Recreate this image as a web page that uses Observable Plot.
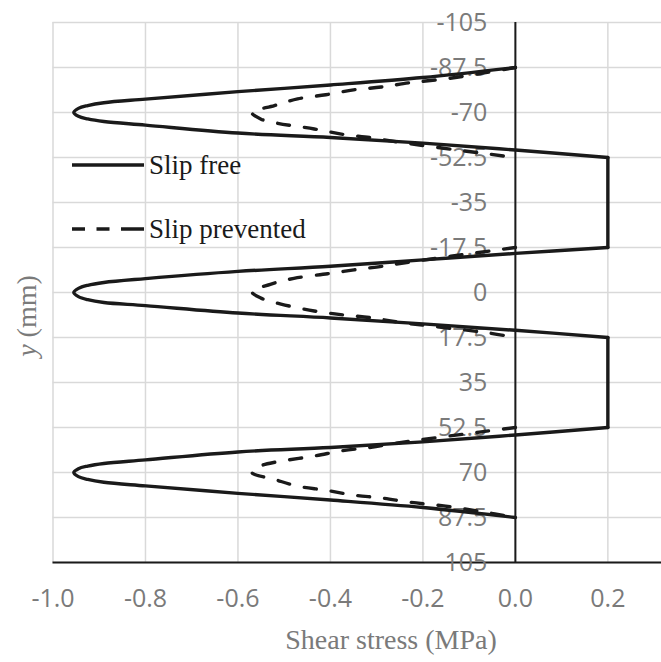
<!DOCTYPE html>
<html>
<head>
<meta charset="utf-8">
<script src="https://cdn.jsdelivr.net/npm/d3@7"></script>
<script src="https://cdn.jsdelivr.net/npm/@observablehq/plot@0.6"></script>
<style>
  body { margin: 0; background: #fff; }
  #chart { position: relative; width: 661px; height: 662px; }
</style>
</head>
<body>
<div id="chart"></div>
<script>
// ---- tick values ----
const xTicks = [-1.0, -0.8, -0.6, -0.4, -0.2, 0.0, 0.2];
const yTicks = [-105, -87.5, -70, -52.5, -35, -17.5, 0, 17.5, 35, 52.5, 70, 87.5, 105];

// ---- series names / labels ----
const seriesNames = ["Slip free", "Slip prevented"];
const xLabel = "Shear stress (MPa)";

// ---- Slip free (solid): y (mm) and shear stress (MPa) per lobe ----
const freeTopY = [-87.5, -83.6, -80.7, -78.1, -75.2, -73.8, -72.7, -71.6, -70.0, -68.5, -67.5, -66.5, -65.1, -62.0, -60.3, -58.1, -55.4, -52.5];
const freeTopX = [0, -0.2, -0.4, -0.6, -0.8, -0.89, -0.925, -0.945, -0.955, -0.945, -0.925, -0.89, -0.8, -0.6, -0.4, -0.2, 0, 0.2];
const freeMidY = [-17.5, -15.2, -12.7, -10.2, -8.2, -5.4, -3.9, -2.8, -1.6, 0, 1.6, 2.8, 3.9, 5.1, 8.0, 9.9, 12.2, 14.7, 17.5];
const freeMidX = [0.2, 0, -0.2, -0.4, -0.6, -0.8, -0.89, -0.925, -0.945, -0.955, -0.945, -0.925, -0.89, -0.8, -0.6, -0.4, -0.2, 0, 0.2];
const freeBotY = [52.5, 55.4, 58.1, 60.3, 62.0, 65.1, 66.5, 67.5, 68.5, 70.0, 71.6, 72.7, 73.8, 75.2, 78.1, 80.7, 83.6, 87.5];
const freeBotX = [0.2, 0, -0.2, -0.4, -0.6, -0.8, -0.89, -0.925, -0.945, -0.955, -0.945, -0.925, -0.89, -0.8, -0.6, -0.4, -0.2, 0];

// ---- Slip prevented (dashed) ----
const prevTopY = [-87.5, -85.2, -83.0, -81.6, -79.9, -78.8, -76.9, -75.3, -72.7, -70.0, -67.4, -65.8, -63.6, -61.5, -60.2, -58.5, -54.3, -52.5];
const prevTopX = [0, -0.074, -0.155, -0.227, -0.29, -0.35, -0.41, -0.471, -0.521, -0.57, -0.55, -0.514, -0.435, -0.373, -0.312, -0.254, -0.078, 0];
const prevMidY = [-17.5, -16.4, -11.8, -10.2, -8.8, -7.3, -5.5, -3.2, -0.3, 2.2, 4.5, 7.2, 8.7, 9.8, 11.5, 15.7, 17.5];
const prevMidX = [0, -0.045, -0.23, -0.288, -0.349, -0.406, -0.479, -0.53, -0.57, -0.55, -0.507, -0.435, -0.373, -0.312, -0.254, -0.059, 0];
const prevBotY = [52.5, 54.3, 58.5, 60.2, 61.5, 63.6, 65.8, 67.4, 70.0, 72.7, 75.3, 76.9, 78.8, 79.9, 81.6, 83.0, 85.2, 87.5];
const prevBotX = [0, -0.078, -0.254, -0.312, -0.373, -0.435, -0.514, -0.55, -0.57, -0.521, -0.471, -0.41, -0.35, -0.29, -0.227, -0.155, -0.074, 0];

// ---- build rows ----
const freeLobes = [[freeTopY, freeTopX], [freeMidY, freeMidX], [freeBotY, freeBotX]];
const prevLobes = [[prevTopY, prevTopX], [prevMidY, prevMidX], [prevBotY, prevBotX]];

const solidRows = [];
freeLobes.forEach(([ys, xs], i) => {
  ys.forEach((y, j) => solidRows.push({x: xs[j], y, part: "lobe" + i}));
  if (i < freeLobes.length - 1) {
    const [nys, nxs] = freeLobes[i + 1];
    solidRows.push({x: xs[xs.length - 1], y: ys[ys.length - 1], part: "link" + i});
    solidRows.push({x: nxs[0], y: nys[0], part: "link" + i});
  }
});
const dashRows = [];
prevLobes.forEach(([ys, xs], i) => {
  ys.forEach((y, j) => dashRows.push({x: xs[j], y, part: "lobe" + i}));
});

const gray = "#7a7a7a";
const ink = "#1a1a1a";
const yMax = yTicks[yTicks.length - 1];

const chart = Plot.plot({
  width: 661,
  height: 662,
  marginLeft: 52.5,
  marginRight: 0,
  marginTop: 22,
  marginBottom: 100,
  x: {domain: [-1, 0.316], axis: null},
  y: {domain: [yTicks[0], yMax], reverse: true, axis: null},
  style: {fontFamily: "'Open Sans', sans-serif", background: "white"},
  marks: [
    Plot.gridX(xTicks, {stroke: "#d9d9d9", strokeOpacity: 1, strokeWidth: 1.5}),
    Plot.gridY(yTicks, {stroke: "#d9d9d9", strokeOpacity: 1, strokeWidth: 1.5}),
    Plot.ruleY([yMax], {stroke: ink, strokeWidth: 2}),
    Plot.ruleX([0], {stroke: ink, strokeWidth: 2}),
    Plot.text(yTicks, {x: 0, y: d => d, text: d => String(d), dx: -28, textAnchor: "end", fontSize: 25, fill: gray}),
    Plot.text(xTicks, {x: d => d, y: yMax, text: d => d.toFixed(1), dy: 36, fontSize: 25, fill: gray}),
    Plot.line(solidRows, {x: "x", y: "y", z: "part", curve: "catmull-rom", stroke: ink, strokeWidth: 3.4}),
    Plot.line(dashRows, {x: "x", y: "y", z: "part", curve: "catmull-rom", stroke: ink, strokeWidth: 3.4, strokeDasharray: "12,15", strokeLinecap: "round"})
  ]
});

document.getElementById("chart").appendChild(chart);

// axis titles and legend
const svg = d3.select(chart);
const serif = "'Liberation Serif', 'Times New Roman', serif";

svg.append("text")
  .attr("x", 391).attr("y", 649)
  .attr("text-anchor", "middle")
  .attr("font-family", serif).attr("font-size", 28).attr("fill", gray)
  .text(xLabel);

const yl = svg.append("text")
  .attr("transform", "translate(36,316) rotate(-90)")
  .attr("text-anchor", "middle")
  .attr("font-family", serif).attr("font-size", 28).attr("fill", gray);
yl.append("tspan").attr("font-style", "italic").text("y");
yl.append("tspan").text(" (mm)");

const leg = svg.append("g");
const legendRows = [
  {name: seriesNames[0], y: 165, dash: null},
  {name: seriesNames[1], y: 229, dash: "13,11.5,13,11.5,24"}
];
legendRows.forEach(r => {
  const ln = leg.append("line")
    .attr("x1", 72).attr("x2", 144).attr("y1", r.y).attr("y2", r.y)
    .attr("stroke", ink).attr("stroke-width", 3.4);
  if (r.dash) ln.attr("stroke-dasharray", r.dash);
  leg.append("text")
    .attr("x", 149).attr("y", r.y + 8.5)
    .attr("text-anchor", "start")
    .attr("font-family", serif).attr("font-size", 27).attr("fill", ink)
    .text(r.name);
});
</script>
</body>
</html>
